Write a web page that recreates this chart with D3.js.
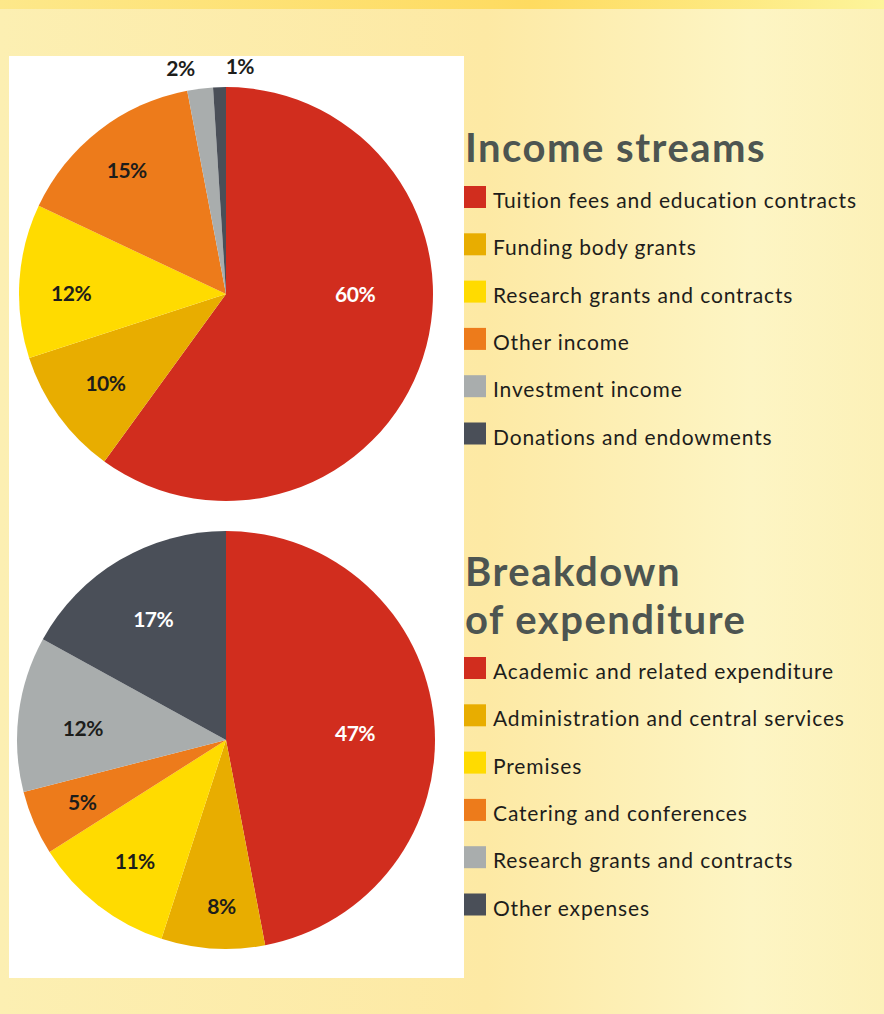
<!DOCTYPE html>
<html>
<head>
<meta charset="utf-8">
<script src="https://cdn.jsdelivr.net/npm/d3@7"></script>
<style>
  body { margin: 0; }
  svg { display: block; }
</style>
</head>
<body>
<svg></svg>
<script>
const incomeCats = ["Tuition fees and education contracts", "Funding body grants", "Research grants and contracts", "Other income", "Investment income", "Donations and endowments"];
const incomeVals = [60, 10, 12, 15, 2, 1];

const expCats = ["Academic and related expenditure", "Administration and central services", "Premises", "Catering and conferences", "Research grants and contracts", "Other expenses"];
const expVals = [47, 8, 11, 5, 12, 17];

const incomeColors = ["#d12d1e", "#e8ad00", "#ffdb00", "#ed7b1b", "#a9adad", "#4a4f58"];
const expColors = ["#d12d1e", "#e8ad00", "#ffdb00", "#ed7b1b", "#a9adad", "#4a4f58"];

const width = 884, height = 1014;
const svg = d3.select("svg").attr("width", width).attr("height", height);

// background
const defs = svg.append("defs");
const bg = defs.append("linearGradient").attr("id", "bg").attr("x1", 0).attr("x2", 1).attr("y1", 0).attr("y2", 0);
bg.append("stop").attr("offset", "0%").attr("stop-color", "#fcefb2");
bg.append("stop").attr("offset", "55%").attr("stop-color", "#fde9a4");
bg.append("stop").attr("offset", "85%").attr("stop-color", "#fdf5c4");
bg.append("stop").attr("offset", "100%").attr("stop-color", "#fcf1b8");
const band = defs.append("linearGradient").attr("id", "band").attr("x1", 0).attr("x2", 1);
band.append("stop").attr("offset", "0%").attr("stop-color", "#fde88a");
band.append("stop").attr("offset", "60%").attr("stop-color", "#fedb60");
band.append("stop").attr("offset", "100%").attr("stop-color", "#fdf49a");

svg.append("rect").attr("width", width).attr("height", height).attr("fill", "url(#bg)");
svg.append("rect").attr("width", width).attr("height", 9).attr("fill", "url(#band)");
svg.append("rect").attr("x", 9).attr("y", 56).attr("width", 455).attr("height", 922).attr("fill", "#fff");

function drawPie(vals, colors, cx, cy, r, labelPos) {
    const pie = d3.pie().sort(null).value(d => d);
    const arc = d3.arc().innerRadius(0).outerRadius(r);
    const g = svg.append("g").attr("transform", `translate(${cx},${cy})`);
    const arcs = pie(vals);
    g.selectAll("path")
        .data(arcs)
        .enter()
        .append("path")
        .attr("d", arc)
        .attr("fill", (d, i) => colors[i]);

    g.selectAll("text")
        .data(arcs)
        .enter()
        .append("text")
        .attr("transform", (d, i) => {
            const p = labelPos[i];
            const rr = p.out ? r + p.out : r * p.k;
            const c = d3.arc().innerRadius(rr).outerRadius(rr).centroid(d);
            return `translate(${c[0] + (p.dx || 0)},${c[1] + (p.dy || 0)})`;
        })
        .attr("text-anchor", "middle")
        .attr("dy", "0.35em")
        .style("font-family", "Lato, 'Open Sans', sans-serif")
        .style("font-weight", "bold")
        .style("font-size", "21px")
        .style("letter-spacing", "-0.5px")
        .attr("fill", (d, i) => labelPos[i].light ? "#fff" : "#1d1d1b")
        .text(d => d.data + "%");
}

drawPie(incomeVals, incomeColors, 226, 294, 207, [
    { k: 0.62, light: true, dx: 7, dy: -39 },
    { k: 0.72, dy: 2 },
    { k: 0.75, dy: 9 },
    { k: 0.68, dx: -13, dy: -12 },
    { out: 20, dx: -17 },
    { out: 20, dx: 21 }
]);

drawPie(expVals, expColors, 226, 740, 209, [
    { k: 0.62, light: true, dy: 6 },
    { k: 0.8, dx: 6 },
    { k: 0.65, dx: -8, dy: 14 },
    { k: 0.75 },
    { k: 0.7, dx: 2, dy: 7 },
    { k: 0.6, light: true, dx: -9, dy: -12 }
]);

function legend(title, cats, colors, x, titleY, firstY) {
    const t = svg.append("text")
        .attr("x", x).attr("y", titleY)
        .style("font-family", "Lato, sans-serif")
        .style("font-weight", "bold")
        .style("font-size", "40px")
        .style("letter-spacing", "1.5px")
        .attr("fill", "#4d5551");
    title.forEach((line, i) => {
        t.append("tspan").attr("x", x).attr("dy", i === 0 ? 0 : 48).text(line);
    });
    const g = svg.append("g");
    const rows = g.selectAll("g")
        .data(cats)
        .enter()
        .append("g")
        .attr("transform", (d, i) => `translate(${x - 1},${firstY + i * 47.3})`);
    rows.append("rect").attr("width", 22).attr("height", 22).attr("fill", (d, i) => colors[i]);
    rows.append("text")
        .attr("x", 29).attr("y", 22)
        .style("font-family", "Lato, sans-serif")
        .style("font-size", "21px")
        .style("letter-spacing", "0.85px")
        .attr("fill", "#1d1d1b")
        .text(d => d);
}

legend(["Income streams"], incomeCats, incomeColors, 465, 162, 186);
legend(["Breakdown", "of expenditure"], expCats, expColors, 465, 586, 657);
</script>
</body>
</html>
